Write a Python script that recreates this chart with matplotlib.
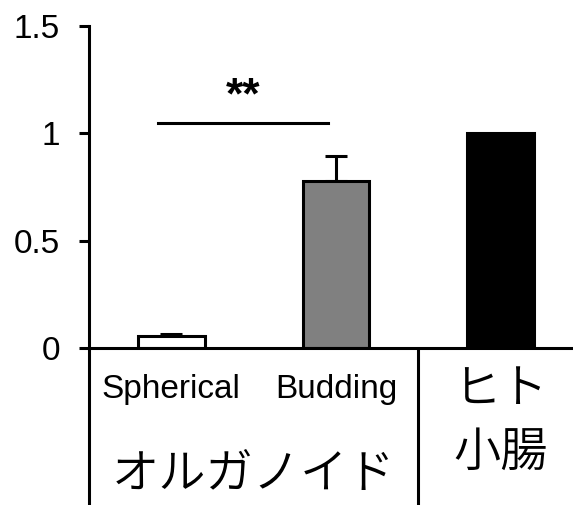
import matplotlib
matplotlib.use("Agg")
import matplotlib.pyplot as plt
import matplotlib.transforms as mtransforms

categories = ["Spherical", "Budding", "ヒト\n小腸"]
values = [0.056, 0.78, 1.0]
errors = [0.008, 0.115, 0.0]
colors = ["white", "#808080", "black"]
yticks = [0, 0.5, 1, 1.5]
ytick_labels = ["0", "0.5", "1", "1.5"]
group_label = "オルガノイド"
sig_label = "**"
sig_y = 1.048

plt.rcParams['font.family'] = ['Liberation Sans', 'Noto Sans CJK JP', 'DejaVu Sans']

fig = plt.figure(figsize=(5.73, 5.05), dpi=100)
ax = fig.add_axes([0.1553, 0.311, 0.8447, 0.6376])

x = list(range(len(values)))
ax.bar(x, values, width=0.406, color=colors, edgecolor="black", linewidth=2.2, zorder=2)
for xi, v, e in zip(x, values, errors):
    if e > 0:
        ax.errorbar(xi, v, yerr=[[0], [e]], fmt="none", ecolor="black",
                    elinewidth=2.2, capsize=8, capthick=2.2, zorder=1)

ax.set_xlim(-0.5, 2.44)
ax.set_ylim(0, 1.5)
ax.set_yticks(yticks)
ax.set_yticklabels(ytick_labels, fontsize=24)
ax.set_xticks([])
for s in ["top", "right"]:
    ax.spines[s].set_visible(False)
for s in ["left", "bottom"]:
    ax.spines[s].set_linewidth(2.2)
ax.tick_params(axis="y", length=7, width=2.2, direction="out", pad=14)

# extension of left axis and separator below the x axis
trans = mtransforms.blended_transform_factory(ax.transData, ax.transAxes)
ax.plot([-0.5, -0.5], [0, -0.6], transform=trans, color="black", lw=2.2, clip_on=False, solid_capstyle="butt")
ax.plot([1.5, 1.5], [0, -0.6], transform=trans, color="black", lw=2.2, clip_on=False, solid_capstyle="butt")

# significance
ax.plot([-0.079, 0.95], [sig_y, sig_y], color="black", lw=2.2, clip_on=False)
ax.text(0.436, sig_y + 0.12, sig_label, ha="center", va="center", fontsize=32, fontweight="bold")

# category labels
ax.text(0, -0.13, categories[0], transform=trans, ha="center", va="center", fontsize=24)
ax.text(1, -0.13, categories[1], transform=trans, ha="center", va="center", fontsize=24)
jp_top, jp_bot = categories[2].split("\n")
jp_font = ['Noto Sans CJK JP', 'DejaVu Sans']
ax.text(2, -0.130, jp_top, transform=trans, ha="center", va="center", fontsize=34,
        family=jp_font, fontweight=350)
ax.text(2, -0.326, jp_bot, transform=trans, ha="center", va="center", fontsize=34,
        family=jp_font, fontweight=350)
ax.text(0.5, -0.394, group_label, transform=trans, ha="center", va="center", fontsize=34,
        family=jp_font, fontweight=350)

fig.savefig("out.png", dpi=100)
